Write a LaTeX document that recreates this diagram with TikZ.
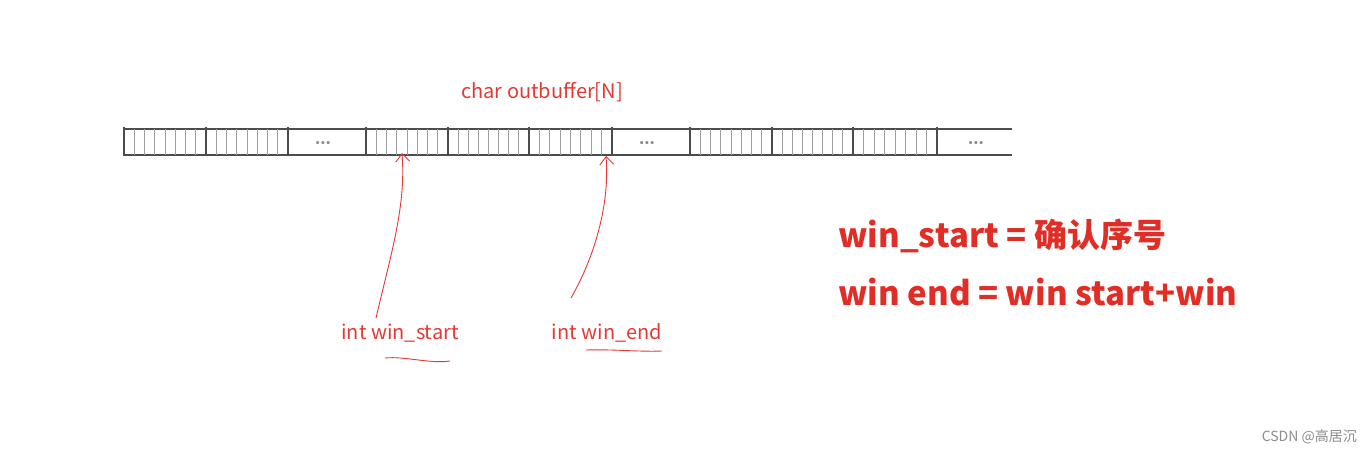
\documentclass[tikz,border=0pt]{standalone}
\usepackage{fontspec}
\setmainfont{Noto Sans CJK SC}
\usetikzlibrary{arrows.meta,calc}
\definecolor{InkClr}{rgb}{0.9,0.22,0.2}
\definecolor{BoldClr}{rgb}{0.88,0.18,0.15}
\definecolor{BarClr}{rgb}{0.3,0.3,0.3}
\definecolor{CellClr}{rgb}{0.62,0.62,0.62}
\definecolor{MarkClr}{rgb}{0.55,0.55,0.55}

\begin{document}
\begin{tikzpicture}[x=1pt,y=-1pt,
  cell/.style={line width=0.8pt,color=CellClr},
  bar/.style={line width=2pt,color=BarClr},
  hand/.style={line width=0.9pt,color=InkClr,-{Straight Barb[length=8pt,width=14pt]}},
  handline/.style={line width=0.9pt,color=InkClr},
  lbl/.style={text=InkClr,font=\fontsize{20}{23}\selectfont,inner sep=0pt},
  big/.style={text=BoldClr,font=\bfseries\fontsize{33}{38}\selectfont,inner sep=0pt,anchor=west},
  dots/.style={text=MarkClr,font=\bfseries\fontsize{15}{17}\selectfont,inner sep=0pt}]
\useasboundingbox (0,0) rectangle (1371,453);

% the buffer strip
\draw[line width=1.2pt,color=BarClr] (124,129) -- (1012,129) (124,155) -- (1012,155);
\foreach \a/\b in {124/206,206/288,366/448,448/529,529/612,690/772,772/853,853/937}{
  \foreach \k in {1,...,7}
    \draw[cell] ({\a+\k*(\b-\a)/8},129) -- ({\a+\k*(\b-\a)/8},155);
}
\foreach \x in {124,206,288,366,448,529,612,690,772,853,937}
  \draw[bar] (\x,127) -- (\x,156);
\node[dots] (gapA) at (323,143) {...};
\node[dots] (gapB) at (647,143) {...};
\node[dots] (gapC) at (976,143) {...};

% labels
\node[lbl] (buf) at (542,92) {char outbuffer[N]};
\node[lbl] (ws) at (400,333) {int win\_start};
\node[lbl] (we) at (607,333) {int win\_end};
\node[big] (eqA) at (838,236) {win\_start = 确认序号};
\node[big] (eqB) at (838,292) {win end = win start+win};
\node[text=MarkClr,font=\fontsize{14}{16}\selectfont,inner sep=0pt,anchor=east] (mark) at (1357,437) {CSDN @高居沉};

% hand drawn arrows
\coordinate (ws-tail) at (376,318);
\coordinate (ws-tip) at (402,153);
\coordinate (we-tail) at (571,298);
\coordinate (we-tip) at (606,156);
\draw[hand] (ws-tail) .. controls (392,250) and (406,205) .. (ws-tip);
\draw[hand] (we-tail) .. controls (594,258) and (610,205) .. (we-tip);

% underlines
\draw[handline] (385,358) .. controls (405,356) and (430,364) .. (450,361);
\draw[handline] (586,350) .. controls (610,349) and (640,352) .. (662,351);
\end{tikzpicture}
\end{document}
